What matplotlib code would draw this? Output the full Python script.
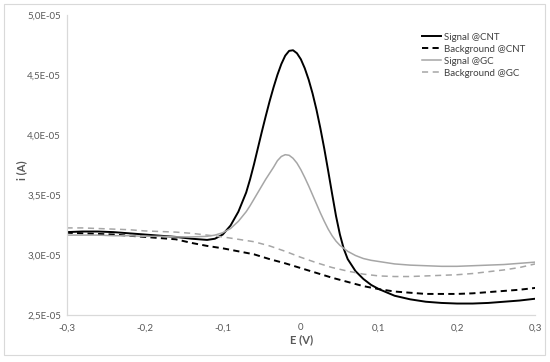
import matplotlib
matplotlib.use("Agg")
import matplotlib.pyplot as plt
from matplotlib.patches import Rectangle
from matplotlib.ticker import FuncFormatter, MultipleLocator

plt.rcParams['font.family'] = ['Lato', 'DejaVu Sans']

# potentials (V) for the background scans
e_bg = [-0.30, -0.28, -0.26, -0.24, -0.22, -0.20, -0.18, -0.16, -0.14, -0.12,
        -0.10, -0.08, -0.06, -0.04, -0.02, 0.00, 0.02, 0.04, 0.06, 0.08,
        0.10, 0.12, 0.14, 0.16, 0.18, 0.20, 0.22, 0.24, 0.26, 0.28, 0.30]

# potentials (V) for the signal scans, finer around the peak
e_sig = [-0.30, -0.28, -0.26, -0.24, -0.22, -0.20, -0.18, -0.16, -0.14, -0.12,
         -0.11, -0.10, -0.09, -0.08, -0.07, -0.065, -0.06, -0.055, -0.05, -0.045,
         -0.04, -0.035, -0.03, -0.025, -0.02, -0.015, -0.01, -0.005, 0.0, 0.005,
         0.01, 0.015, 0.02, 0.025, 0.03, 0.035, 0.04, 0.045, 0.05, 0.055, 0.06,
         0.07, 0.08, 0.09, 0.10, 0.12, 0.14, 0.16, 0.18, 0.20, 0.22,
         0.24, 0.26, 0.28, 0.30]

# currents in units of 1E-05 A
signal_cnt = [3.19, 3.195, 3.195, 3.19, 3.18, 3.17, 3.16, 3.15, 3.135, 3.125,
              3.135, 3.17, 3.245, 3.36, 3.52, 3.63, 3.755, 3.89, 4.025, 4.155,
              4.28, 4.395, 4.50, 4.59, 4.66, 4.70, 4.705, 4.68, 4.63, 4.555,
              4.46, 4.345, 4.21, 4.055, 3.885, 3.70, 3.51, 3.325, 3.17, 3.05, 2.965,
              2.865, 2.80, 2.75, 2.715, 2.66, 2.63, 2.61, 2.60, 2.595, 2.595,
              2.60, 2.61, 2.62, 2.635]

background_cnt = [3.185, 3.18, 3.175, 3.17, 3.16, 3.15, 3.14, 3.13, 3.10, 3.075,
                  3.055, 3.03, 3.005, 2.965, 2.93, 2.89, 2.85, 2.81, 2.775, 2.74,
                  2.715, 2.695, 2.685, 2.675, 2.675, 2.675, 2.68, 2.69, 2.70, 2.71, 2.725]

signal_gc = [3.165, 3.165, 3.165, 3.16, 3.16, 3.155, 3.155, 3.15, 3.15, 3.155,
             3.165, 3.185, 3.22, 3.28, 3.36, 3.41, 3.465, 3.52, 3.575, 3.63,
             3.68, 3.73, 3.785, 3.82, 3.835, 3.83, 3.805, 3.765, 3.71, 3.645,
             3.575, 3.50, 3.425, 3.35, 3.28, 3.215, 3.16, 3.115, 3.08, 3.055, 3.03,
             2.995, 2.97, 2.955, 2.945, 2.925, 2.915, 2.91, 2.905, 2.905, 2.91,
             2.915, 2.92, 2.93, 2.94]

background_gc = [3.225, 3.225, 3.22, 3.215, 3.21, 3.20, 3.195, 3.19, 3.18, 3.165,
                 3.15, 3.13, 3.11, 3.075, 3.03, 2.98, 2.935, 2.895, 2.865, 2.84,
                 2.825, 2.82, 2.82, 2.825, 2.83, 2.835, 2.845, 2.86, 2.875, 2.895, 2.925]

def scale(values):
    return [v * 1e-5 for v in values]

fig = plt.figure(figsize=(5.5, 3.62), dpi=100)
ax = fig.add_axes([0.121, 0.130, 0.852, 0.829])

ax.plot(e_sig, scale(signal_cnt), color='#000000', lw=1.4, label='Signal @CNT')
ax.plot(e_bg, scale(background_cnt), color='#000000', lw=1.4, dashes=(3.2, 2.2), label='Background @CNT')
ax.plot(e_sig, scale(signal_gc), color='#a6a6a6', lw=1.1, label='Signal @GC')
ax.plot(e_bg, scale(background_gc), color='#a6a6a6', lw=1.1, dashes=(4, 3), label='Background @GC')

ax.set_xlim(-0.3, 0.3)
ax.set_ylim(2.5e-5, 5.0e-5)
ax.xaxis.set_major_locator(MultipleLocator(0.1))
ax.yaxis.set_major_locator(MultipleLocator(0.5e-5))

def fmt_x(v, pos):
    if abs(v) < 1e-9:
        return '0'
    return f'{v:.1f}'.replace('.', ',')

def fmt_y(v, pos):
    return f'{v:.1E}'.replace('.', ',')

ax.xaxis.set_major_formatter(FuncFormatter(fmt_x))
ax.yaxis.set_major_formatter(FuncFormatter(fmt_y))
ax.tick_params(length=0, labelsize=7, labelcolor='#595959')
ax.tick_params(axis='y', pad=4)
ax.tick_params(axis='x', pad=6)

for side in ['top', 'right']:
    ax.spines[side].set_visible(False)
for side in ['left', 'bottom']:
    ax.spines[side].set_color('#d9d9d9')
    ax.spines[side].set_linewidth(0.9)

fig.text(22 / 550, 1 - 170 / 362, 'i (A)', rotation=90, ha='center', va='center',
         fontsize=8, color='#595959', fontweight='bold')
fig.text(302 / 550, 1 - 340 / 362, 'E (V)', ha='center', va='center',
         fontsize=8, color='#595959', fontweight='bold')

ax.legend(loc='upper left', bbox_to_anchor=(417 / 550, 1 - 28 / 362),
          bbox_transform=fig.transFigure, frameon=False, fontsize=7,
          handlelength=2.0, handletextpad=0.25, labelspacing=0.3, borderpad=0,
          labelcolor='#404040')

# outer chart border
fig.patches.append(Rectangle((4 / 550, 1 - 355 / 362), 541 / 550, 351 / 362,
                             transform=fig.transFigure, fill=False,
                             ec='#d9d9d9', lw=0.8))

fig.savefig('out.png', dpi=100)
